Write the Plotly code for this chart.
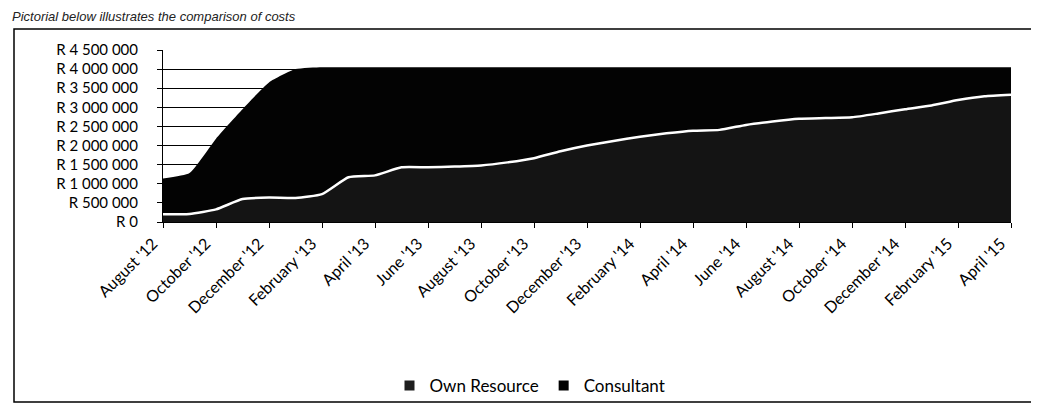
import plotly.graph_objects as go

months = ["August '12", "September '12", "October '12", "November '12", "December '12",
          "January '13", "February '13", "March '13", "April '13", "May '13", "June '13",
          "July '13", "August '13", "September '13", "October '13", "November '13",
          "December '13", "January '14", "February '14", "March '14", "April '14",
          "May '14", "June '14", "July '14", "August '14", "September '14", "October '14",
          "November '14", "December '14", "January '15", "February '15", "March '15",
          "April '15"]

own_resource = [200000, 210000, 330000, 600000, 640000, 630000, 730000, 1170000,
                1220000, 1430000, 1430000, 1450000, 1480000, 1560000, 1670000, 1850000,
                2000000, 2120000, 2230000, 2320000, 2390000, 2410000, 2540000, 2630000,
                2700000, 2720000, 2740000, 2840000, 2950000, 3050000, 3190000, 3290000,
                3330000]

consultant = [940000, 1070000, 1850000, 2350000, 3010000, 3370000, 3320000, 2880000,
              2830000, 2620000, 2620000, 2600000, 2570000, 2490000, 2380000, 2200000,
              2050000, 1930000, 1820000, 1730000, 1660000, 1640000, 1510000, 1420000,
              1350000, 1330000, 1310000, 1210000, 1100000, 1000000, 860000, 760000,
              720000]

y_tick_values = [0, 500000, 1000000, 1500000, 2000000, 2500000, 3000000, 3500000,
                 4000000, 4500000]
y_tick_labels = ["R 0", "R 500 000", "R 1 000 000", "R 1 500 000", "R 2 000 000",
                 "R 2 500 000", "R 3 000 000", "R 3 500 000", "R 4 000 000",
                 "R 4 500 000"]

x_idx = list(range(len(months)))
x_tick_idx = x_idx[::2]
x_tick_labels = months[::2]

FONT = "Lato, 'Open Sans', sans-serif"

fig = go.Figure()
fig.add_trace(go.Scatter(
    x=x_idx, y=own_resource, name="Own Resource", stackgroup="one",
    mode="lines", line=dict(color="white", width=2.5, shape="spline", smoothing=0.5),
    fillcolor="#141414", showlegend=False, hoverinfo="skip"))
fig.add_trace(go.Scatter(
    x=x_idx, y=consultant, name="Consultant", stackgroup="one",
    mode="lines", line=dict(color="black", width=0, shape="spline", smoothing=0.5),
    fillcolor="#030303", showlegend=False, hoverinfo="skip"))

# legend entries
fig.add_trace(go.Scatter(x=[None], y=[None], mode="markers", name="Own Resource",
                         marker=dict(symbol="square", size=10, color="#1e1e1e")))
fig.add_trace(go.Scatter(x=[None], y=[None], mode="markers", name="Consultant",
                         marker=dict(symbol="square", size=10, color="#000000")))

L, R, T, B = 155, 36, 42, 200
W, H = 1039, 414
pw = W - L - R
ph = H - T - B

def px_x(p):
    return (p - L) / pw

def px_y(p):
    return (H - B - p) / ph

fig.update_layout(
    width=W, height=H,
    margin=dict(l=L, r=R, t=T, b=B),
    paper_bgcolor="white", plot_bgcolor="white",
    font=dict(family=FONT, color="black", size=16),
    showlegend=True,
    legend=dict(orientation="h", traceorder="normal", x=px_x(522), y=px_y(378),
                xanchor="center", yanchor="middle", font=dict(size=17, family=FONT),
                itemwidth=30, bgcolor="rgba(0,0,0,0)"),
    xaxis=dict(range=[0, len(months) - 1], tickmode="array", tickvals=x_tick_idx,
               ticktext=x_tick_labels, tickangle=-45, ticks="outside", ticklen=5,
               tickcolor="black", showline=True, linecolor="black", linewidth=1,
               showgrid=False, zeroline=False, ticklabelshift=-10,
               tickfont=dict(size=16, family=FONT)),
    yaxis=dict(range=[0, 4500000], tickmode="array", tickvals=y_tick_values,
               ticktext=y_tick_labels, ticks="outside", ticklen=5, tickcolor="black",
               showline=True, linecolor="black", linewidth=1, showgrid=True,
               gridcolor="black", gridwidth=1, zeroline=False, ticklabelstandoff=16,
               tickfont=dict(size=15, family=FONT)),
    shapes=[dict(type="rect", xref="paper", yref="paper",
                 x0=px_x(6), x1=px_x(1046), y0=px_y(394), y1=px_y(21),
                 line=dict(color="black", width=1.5), fillcolor="rgba(0,0,0,0)",
                 layer="below")],
    annotations=[dict(text="<i>Pictorial below illustrates the comparison of costs</i>",
                      xref="paper", yref="paper", x=px_x(2), y=px_y(8),
                      xanchor="left", yanchor="middle", showarrow=False,
                      font=dict(family="'Liberation Sans', Arial, sans-serif",
                                size=13, color="#222"))],
)

fig.write_html("out.html")
